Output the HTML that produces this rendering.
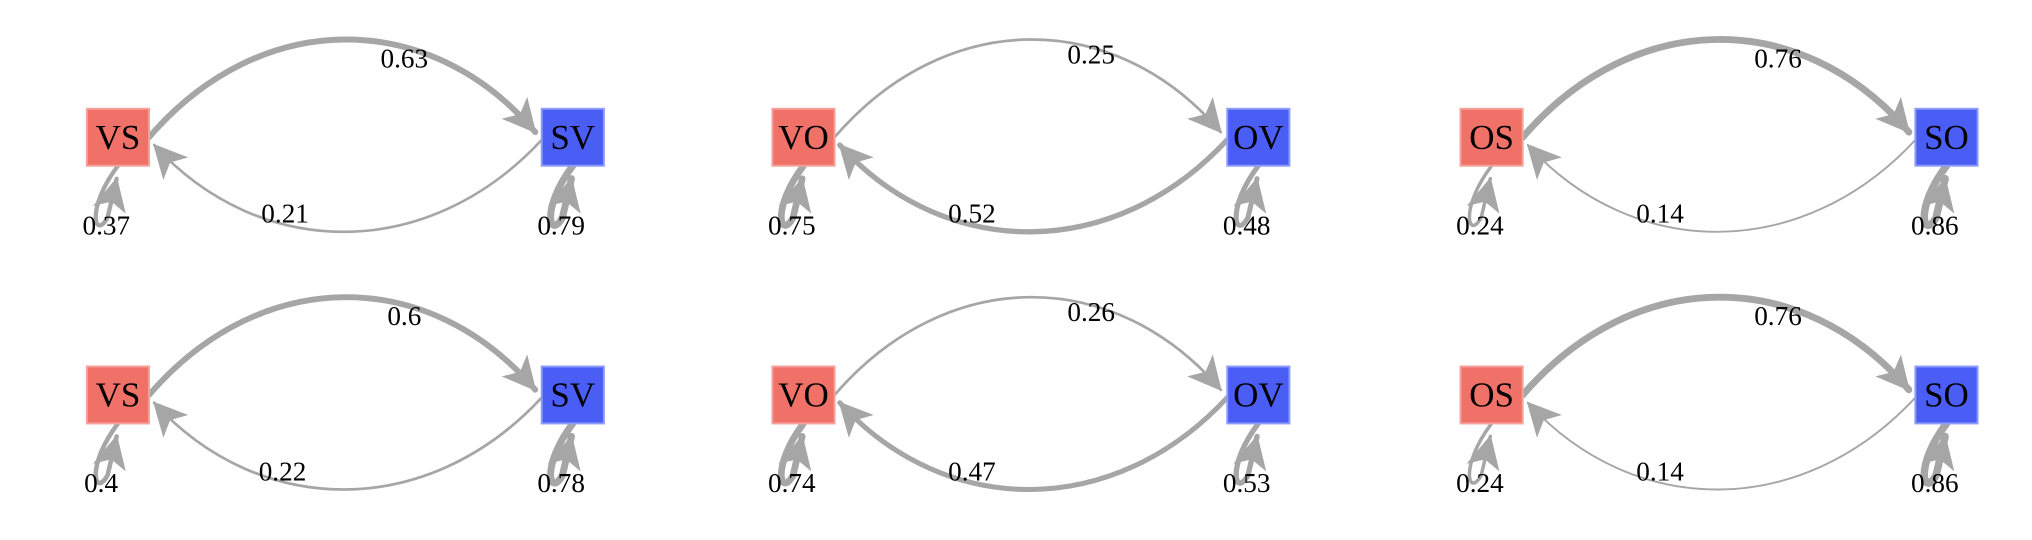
<!DOCTYPE html>
<html><head><meta charset="utf-8"><style>
html,body{margin:0;padding:0;background:#fff;width:2032px;height:540px;overflow:hidden}
svg{display:block}
text{font-family:"Liberation Serif",serif;fill:#000}
.lbl{font-size:21px;text-anchor:middle}
.nd{font-size:27px;text-anchor:middle}
.e{fill:none;stroke:#a6a6a6;stroke-linecap:round}
.r{fill:#f07168;stroke:#f5a29c;stroke-width:1.5}
.b{fill:#4a5ef6;stroke:#8c9cf8;stroke-width:1.5}
</style></head><body>
<svg width="2032" height="540" viewBox="0 0 1568 417" preserveAspectRatio="none" xmlns="http://www.w3.org/2000/svg">
<defs>
<marker id="a" markerUnits="userSpaceOnUse" viewBox="0 0 20 20" refX="19" refY="10" markerWidth="28" markerHeight="26" orient="auto"><path d="M0,0 L20,10 L0,20 L5,10 Z" fill="#a6a6a6"/></marker>
</defs>

<g transform="translate(91,106)">
<path class="e" style="stroke-width:4.6" d="M24,0 C110,-100 240,-100 322,-4" marker-end="url(#a)"/>
<path class="e" style="stroke-width:2" d="M327,2 C240,96 110,96 28,6" marker-end="url(#a)"/>
<path class="e" style="stroke-width:3.3" d="M0,22 C-25,55 -18,80 -8,62 L-1,32" marker-end="url(#a)"/>
<path class="e" style="stroke-width:5.4" d="M351,22 C326,55 333,80 343,62 L350,32" marker-end="url(#a)"/>
<rect class="r" x="-24" y="-22" width="48" height="44"/><text class="nd" x="0" y="9">VS</text>
<rect class="b" x="327" y="-22" width="48" height="44"/><text class="nd" x="351" y="9">SV</text>
<text class="lbl" x="221" y="-54">0.63</text><text class="lbl" x="129" y="66">0.21</text>
<text class="lbl" x="-9" y="75">0.37</text><text class="lbl" x="342" y="75">0.79</text>
</g>

<g transform="translate(620,106)">
<path class="e" style="stroke-width:2.1" d="M24,0 C110,-100 240,-100 322,-4" marker-end="url(#a)"/>
<path class="e" style="stroke-width:4.1" d="M327,2 C240,96 110,96 28,6" marker-end="url(#a)"/>
<path class="e" style="stroke-width:5.2" d="M0,22 C-25,55 -18,80 -8,62 L-1,32" marker-end="url(#a)"/>
<path class="e" style="stroke-width:3.9" d="M351,22 C326,55 333,80 343,62 L350,32" marker-end="url(#a)"/>
<rect class="r" x="-24" y="-22" width="48" height="44"/><text class="nd" x="0" y="9">VO</text>
<rect class="b" x="327" y="-22" width="48" height="44"/><text class="nd" x="351" y="9">OV</text>
<text class="lbl" x="222" y="-57">0.25</text><text class="lbl" x="130" y="66">0.52</text>
<text class="lbl" x="-9" y="75">0.75</text><text class="lbl" x="342" y="75">0.48</text>
</g>

<g transform="translate(1151,106)">
<path class="e" style="stroke-width:5.3" d="M24,0 C110,-100 240,-100 322,-4" marker-end="url(#a)"/>
<path class="e" style="stroke-width:1.5" d="M327,2 C240,96 110,96 28,6" marker-end="url(#a)"/>
<path class="e" style="stroke-width:2.7" d="M0,22 C-25,55 -18,80 -8,62 L-1,32" marker-end="url(#a)"/>
<path class="e" style="stroke-width:5.8" d="M351,22 C326,55 333,80 343,62 L350,32" marker-end="url(#a)"/>
<rect class="r" x="-24" y="-22" width="48" height="44"/><text class="nd" x="0" y="9">OS</text>
<rect class="b" x="327" y="-22" width="48" height="44"/><text class="nd" x="351" y="9">SO</text>
<text class="lbl" x="221" y="-54">0.76</text><text class="lbl" x="130" y="66">0.14</text>
<text class="lbl" x="-9" y="75">0.24</text><text class="lbl" x="342" y="75">0.86</text>
</g>

<g transform="translate(91,305)">
<path class="e" style="stroke-width:4.5" d="M24,0 C110,-100 240,-100 322,-4" marker-end="url(#a)"/>
<path class="e" style="stroke-width:2.1" d="M327,2 C240,96 110,96 28,6" marker-end="url(#a)"/>
<path class="e" style="stroke-width:3.5" d="M0,22 C-25,55 -18,80 -8,62 L-1,32" marker-end="url(#a)"/>
<path class="e" style="stroke-width:5.4" d="M351,22 C326,55 333,80 343,62 L350,32" marker-end="url(#a)"/>
<rect class="r" x="-24" y="-22" width="48" height="44"/><text class="nd" x="0" y="9">VS</text>
<rect class="b" x="327" y="-22" width="48" height="44"/><text class="nd" x="351" y="9">SV</text>
<text class="lbl" x="221" y="-54">0.6</text><text class="lbl" x="127" y="66">0.22</text>
<text class="lbl" x="-13" y="75">0.4</text><text class="lbl" x="342" y="75">0.78</text>
</g>

<g transform="translate(620,305)">
<path class="e" style="stroke-width:2.1" d="M24,0 C110,-100 240,-100 322,-4" marker-end="url(#a)"/>
<path class="e" style="stroke-width:3.9" d="M327,2 C240,96 110,96 28,6" marker-end="url(#a)"/>
<path class="e" style="stroke-width:5.2" d="M0,22 C-25,55 -18,80 -8,62 L-1,32" marker-end="url(#a)"/>
<path class="e" style="stroke-width:4.1" d="M351,22 C326,55 333,80 343,62 L350,32" marker-end="url(#a)"/>
<rect class="r" x="-24" y="-22" width="48" height="44"/><text class="nd" x="0" y="9">VO</text>
<rect class="b" x="327" y="-22" width="48" height="44"/><text class="nd" x="351" y="9">OV</text>
<text class="lbl" x="222" y="-57">0.26</text><text class="lbl" x="130" y="66">0.47</text>
<text class="lbl" x="-9" y="75">0.74</text><text class="lbl" x="342" y="75">0.53</text>
</g>

<g transform="translate(1151,305)">
<path class="e" style="stroke-width:5.3" d="M24,0 C110,-100 240,-100 322,-4" marker-end="url(#a)"/>
<path class="e" style="stroke-width:1.5" d="M327,2 C240,96 110,96 28,6" marker-end="url(#a)"/>
<path class="e" style="stroke-width:2.7" d="M0,22 C-25,55 -18,80 -8,62 L-1,32" marker-end="url(#a)"/>
<path class="e" style="stroke-width:5.8" d="M351,22 C326,55 333,80 343,62 L350,32" marker-end="url(#a)"/>
<rect class="r" x="-24" y="-22" width="48" height="44"/><text class="nd" x="0" y="9">OS</text>
<rect class="b" x="327" y="-22" width="48" height="44"/><text class="nd" x="351" y="9">SO</text>
<text class="lbl" x="221" y="-54">0.76</text><text class="lbl" x="130" y="66">0.14</text>
<text class="lbl" x="-9" y="75">0.24</text><text class="lbl" x="342" y="75">0.86</text>
</g>
</svg>
</body></html>
